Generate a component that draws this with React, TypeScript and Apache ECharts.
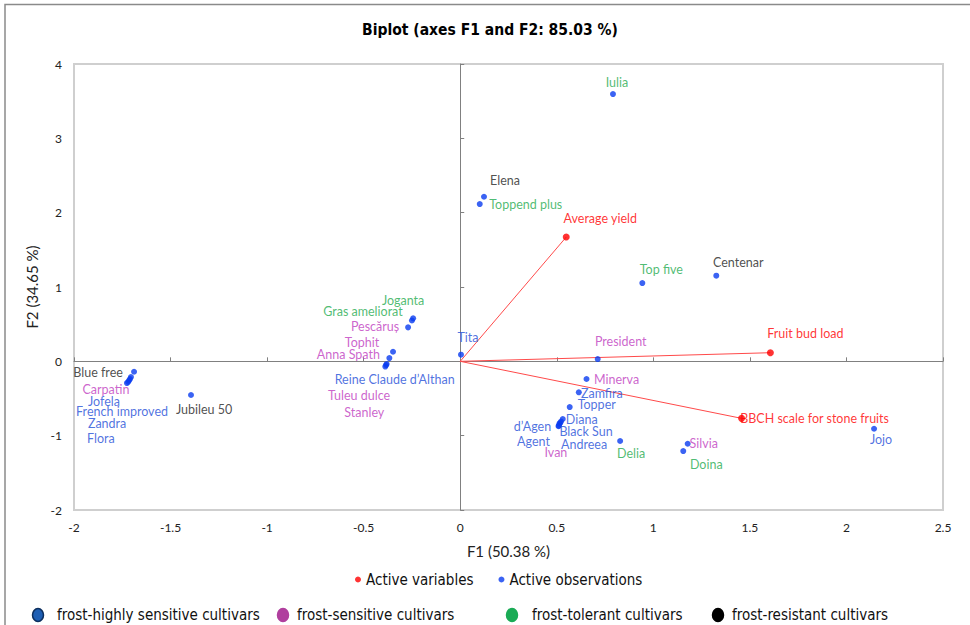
import React, { useEffect, useRef } from "react";
import * as echarts from "echarts";

// ---- data ----
const obsNames = [
  "Iulia", "Elena", "Toppend plus", "Top five", "Centenar", "Tita", "President",
  "Minerva", "Zamfira", "Topper", "Diana", "Black Sun", "Andreea", "d’Agen", "Ivan", "Agent",
  "Delia", "Silvia", "Doina", "Jojo",
  "Joganta", "Gras ameliorat", "Pescăruș", "Tophit", "Anna Spath", "Reine Claude d’Althan", "Tuleu dulce", "Stanley",
  "Blue free", "Carpatin", "Jofela", "French improved", "Zandra", "Flora", "Jubileu 50",
];
const obsX = [
  0.791, 0.123, 0.101, 0.943, 1.326, 0.004, 0.712,
  0.654, 0.614, 0.567, 0.531, 0.522, 0.517, 0.514, 0.511, 0.509,
  0.828, 1.178, 1.155, 2.143,
  -0.244, -0.25, -0.27, -0.348, -0.367, -0.381, -0.384, -0.388,
  -1.689, -1.705, -1.71, -1.715, -1.72, -1.726, -1.394,
];
const obsY = [
  3.596, 2.214, 2.116, 1.053, 1.152, 0.089, 0.031,
  -0.238, -0.417, -0.615, -0.776, -0.81, -0.831, -0.838, -0.865, -0.872,
  -1.072, -1.109, -1.207, -0.907,
  0.578, 0.549, 0.457, 0.129, 0.044, -0.036, -0.05, -0.07,
  -0.14, -0.211, -0.238, -0.258, -0.278, -0.292, -0.453,
];
// 0 = frost-highly sensitive, 1 = frost-sensitive, 2 = frost-tolerant, 3 = frost-resistant
const obsGroup = [
  2, 3, 2, 2, 3, 0, 1,
  1, 0, 0, 0, 0, 0, 0, 1, 0,
  2, 1, 2, 0,
  2, 2, 1, 1, 1, 0, 1, 1,
  3, 1, 0, 0, 0, 0, 3,
];
const varNames = ["Average yield", "Fruit bud load", "BBCH scale for stone fruits"];
const varX = [0.549, 1.606, 1.457];
const varY = [1.672, 0.116, -0.767];
const groupNames = [
  "frost-highly sensitive cultivars",
  "frost-sensitive cultivars",
  "frost-tolerant cultivars",
  "frost-resistant cultivars",
];
const seriesNames = ["Active variables", "Active observations"];
const titleText = "Biplot (axes F1 and F2: 85.03 %)";
const xAxisTitle = "F1 (50.38 %)";
const yAxisTitle = "F2 (34.65 %)";

// ---- styling / layout ----
const labelFont = "Lato, 'Open Sans', sans-serif";
const narrowFont = "'Liberation Sans Narrow', 'DejaVu Sans Condensed', sans-serif";
const groupTextColors = ["#1f4fd8", "#c03cc0", "#1fab4f", "#222222"];
const groupMarkerFill = ["#1e5fb4", "#b03f9e", "#1aab55", "#000000"];
const groupMarkerStroke = ["#0d2f5e", "#b03f9e", "#1aab55", "#000000"];
const groupLegendLayout = [
  { mx: 38, tx: 57 },
  { mx: 283, tx: 297 },
  { mx: 512, tx: 532 },
  { mx: 718, tx: 732 },
];
const labelOffsets: Record<string, [number, number]> = {
  "Iulia": [4, -12],
  "Elena": [21, -16],
  "Toppend plus": [46, 0],
  "Top five": [19, -14],
  "Centenar": [22, -13],
  "Tita": [7, -17],
  "President": [23, -18],
  "Minerva": [30, 0],
  "Zamfira": [23, 1],
  "Topper": [27, -3],
  "Diana": [19, 0],
  "Black Sun": [25, 10],
  "Andreea": [24, 21],
  "d’Agen": [-27, 3],
  "Ivan": [-3, 27],
  "Agent": [-25, 15],
  "Delia": [11, 12],
  "Silvia": [16, 0],
  "Doina": [23, 13],
  "Jojo": [7, 11],
  "Joganta": [-10, -18],
  "Gras ameliorat": [-49, -9],
  "Pescăruș": [-33, -1],
  "Tophit": [-31, -9],
  "Anna Spath": [-41, -4],
  "Reine Claude d’Althan": [8, 15],
  "Tuleu dulce": [-27, 30],
  "Stanley": [-21, 46],
  "Blue free": [-36, 1],
  "Carpatin": [-25, 12],
  "Jofela": [-26, 22],
  "French improved": [-7, 31],
  "Zandra": [-21, 42],
  "Flora": [-26, 55],
  "Jubileu 50": [13, 14],
  "Average yield": [34, -19],
  "Fruit bud load": [35, -19],
  "BBCH scale for stone fruits": [73, 0],
};

export default function App() {
  const ref = useRef<HTMLDivElement>(null);

  useEffect(() => {
    document.body.style.margin = "0";
    if (!ref.current) return;
    const chart = echarts.init(ref.current, undefined, { renderer: "svg" });

    const obsData = obsNames.map((n, i) => ({
      name: n,
      value: [obsX[i], obsY[i]],
      label: {
        color: groupTextColors[obsGroup[i]],
        offset: labelOffsets[n] || [0, -12],
      },
    }));
    const varData = varNames.map((n, i) => ({
      name: n,
      value: [varX[i], varY[i]],
      label: { color: "#ff0000", offset: labelOffsets[n] || [0, -12] },
    }));

    const vectorSeries = varNames.map((n, i) => ({
      type: "line",
      name: "vec-" + n,
      data: [[0, 0], [varX[i], varY[i]]],
      symbol: "none",
      silent: true,
      lineStyle: { color: "#ff4a4a", width: 1 },
      z: 1,
    }));

    const commonLabel = {
      show: true,
      position: "inside",
      formatter: "{b}",
      fontFamily: labelFont,
      fontSize: 12.5,
      align: "center",
      verticalAlign: "middle",
    };

    const graphics: any[] = [
      {
        type: "polyline",
        shape: { points: [[5, 625], [5, 4.5], [970, 4.5]] },
        style: { stroke: "#8a8a8a", lineWidth: 1.5, fill: null },
        silent: true,
      },
      {
        type: "text",
        x: 490,
        y: 30,
        style: {
          text: titleText,
          font: "bold 15.5px " + narrowFont,
          fill: "#000",
          textAlign: "center",
          textVerticalAlign: "middle",
        },
      },
    ];
    groupNames.forEach((g, i) => {
      graphics.push({
        type: "ellipse",
        shape: { cx: groupLegendLayout[i].mx, cy: 615, rx: 5.5, ry: 6.5 },
        style: { fill: groupMarkerFill[i], stroke: groupMarkerStroke[i], lineWidth: 1.5 },
      });
      graphics.push({
        type: "text",
        x: groupLegendLayout[i].tx,
        y: 615,
        style: {
          text: g,
          font: "15px " + narrowFont,
          fill: "#111",
          textAlign: "left",
          textVerticalAlign: "middle",
        },
      });
    });

    chart.setOption({
      animation: false,
      grid: {
        left: 74,
        right: 27,
        top: 64,
        bottom: 115,
        show: true,
        borderColor: "#cfcfcf",
        borderWidth: 2,
      },
      legend: {
        data: seriesNames,
        icon: "circle",
        itemWidth: 6,
        itemHeight: 6,
        itemGap: 25,
        left: 350,
        top: 567,
        textStyle: { fontFamily: narrowFont, fontSize: 15, color: "#111" },
        selectedMode: false,
      },
      xAxis: [
        {
          type: "value",
          min: -2,
          max: 2.5,
          interval: 0.5,
          position: "bottom",
          axisLine: { show: false, onZero: false },
          axisTick: { show: false },
          splitLine: { show: false },
          axisLabel: { margin: 11, fontSize: 12, color: "#222", fontFamily: labelFont },
          name: xAxisTitle,
          nameLocation: "middle",
          nameGap: 33,
          nameTextStyle: { fontSize: 15, color: "#222", fontFamily: labelFont },
        },
        {
          type: "value",
          min: -2,
          max: 2.5,
          interval: 0.5,
          axisLine: { show: true, onZero: true, lineStyle: { color: "#808080", width: 1 } },
          axisTick: { show: true, length: 4, lineStyle: { color: "#808080" } },
          axisLabel: { show: false },
          splitLine: { show: false },
        },
      ],
      yAxis: [
        {
          type: "value",
          min: -2,
          max: 4,
          interval: 1,
          position: "left",
          axisLine: { show: false, onZero: false },
          axisTick: { show: false },
          splitLine: { show: false },
          axisLabel: { margin: 12, fontSize: 12, color: "#222", fontFamily: labelFont },
          name: yAxisTitle,
          nameLocation: "middle",
          nameGap: 25,
          nameRotate: 90,
          nameTextStyle: { fontSize: 15, color: "#222", fontFamily: labelFont },
        },
        {
          type: "value",
          min: -2,
          max: 4,
          interval: 1,
          axisLine: { show: true, onZero: true, lineStyle: { color: "#808080", width: 1 } },
          axisTick: { show: true, length: 4, lineStyle: { color: "#808080" } },
          axisLabel: { show: false },
          splitLine: { show: false },
        },
      ],
      series: [
        ...vectorSeries,
        {
          type: "scatter",
          name: seriesNames[0],
          data: varData,
          symbolSize: 7,
          itemStyle: { color: "#ff0000" },
          label: commonLabel,
          z: 3,
        },
        {
          type: "scatter",
          name: seriesNames[1],
          data: obsData,
          symbolSize: 6,
          itemStyle: { color: "#0a3cf0" },
          label: commonLabel,
          z: 3,
        },
      ],
      graphic: graphics,
    });

    return () => chart.dispose();
  }, []);

  return <div ref={ref} style={{ width: 970, height: 625 }} />;
}
